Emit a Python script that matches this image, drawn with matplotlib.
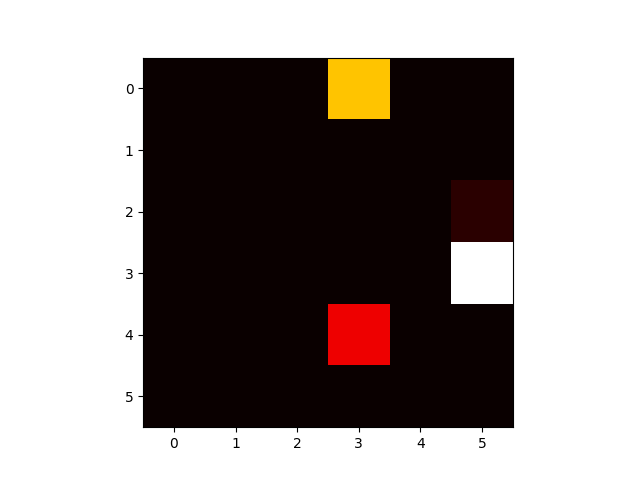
import numpy as np
import matplotlib
matplotlib.use('Agg')
import matplotlib.pyplot as plt

# 6x6 grid of values (hot colormap)
row0 = [0, 0, 0, 0.66, 0, 0]
row1 = [0, 0, 0, 0, 0, 0]
row2 = [0, 0, 0, 0, 0, 0.047]
row3 = [0, 0, 0, 0, 0, 1.0]
row4 = [0, 0, 0, 0.343, 0, 0]
row5 = [0, 0, 0, 0, 0, 0]

grid = np.array([row0, row1, row2, row3, row4, row5])

fig, ax = plt.subplots(figsize=(6.4, 4.8), dpi=100)
ax.imshow(grid, cmap='hot', interpolation='nearest')
fig.savefig('out.png')
